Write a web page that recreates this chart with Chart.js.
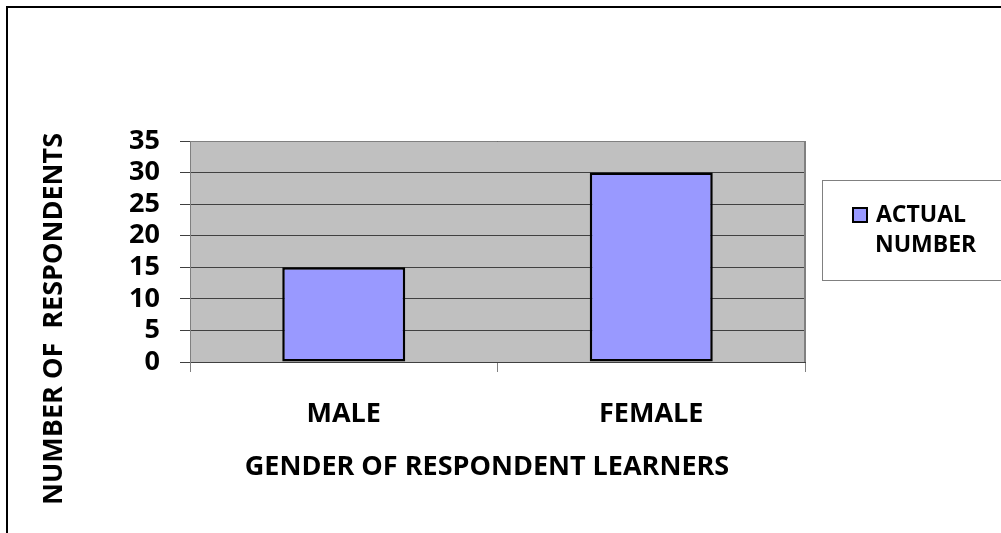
<!DOCTYPE html>
<html>
<head>
<meta charset="utf-8">
<script src="https://cdn.jsdelivr.net/npm/chart.js@4.4.1/dist/chart.umd.min.js"></script>
<style>
  html, body { margin: 0; padding: 0; background: #ffffff; }
  canvas { display: block; }
</style>
</head>
<body>
<canvas id="c" width="1001" height="533"></canvas>
<script>
const categories = ['MALE', 'FEMALE'];
const seriesLabel = 'ACTUAL NUMBER';
const seriesValues = [15, 30];
const yTickValues = [0, 5, 10, 15, 20, 25, 30, 35];
const xAxisTitle = 'GENDER OF RESPONDENT LEARNERS';
const yAxisTitle = 'NUMBER OF  RESPONDENTS';

const FONT = '"Open Sans", "Liberation Sans", sans-serif';
const BAR_FILL = '#9999FF';

const decor = {
  id: 'decor',
  beforeDraw(chart) {
    const ctx = chart.ctx;
    const a = chart.chartArea;
    ctx.save();
    ctx.fillStyle = '#ffffff';
    ctx.fillRect(0, 0, chart.width, chart.height);
    // outer frame
    ctx.strokeStyle = '#000000';
    ctx.lineWidth = 2;
    ctx.strokeRect(7, 7, chart.width + 20, chart.height + 20);
    // plot background
    ctx.fillStyle = '#C0C0C0';
    ctx.fillRect(a.left, a.top, a.right - a.left, a.bottom - a.top);
    ctx.restore();
  },
  afterDraw(chart) {
    const ctx = chart.ctx;
    const a = chart.chartArea;
    ctx.save();
    // plot top & right border
    ctx.strokeStyle = '#808080';
    ctx.lineWidth = 1;
    ctx.beginPath();
    ctx.moveTo(a.left, a.top + 0.5);
    ctx.lineTo(a.right, a.top + 0.5);
    ctx.stroke();
    ctx.lineWidth = 2;
    ctx.beginPath();
    ctx.moveTo(a.right, a.top);
    ctx.lineTo(a.right, a.bottom);
    ctx.stroke();

    // axis titles
    ctx.fillStyle = '#000000';
    ctx.font = 'bold 27px ' + FONT;
    ctx.textAlign = 'center';
    ctx.textBaseline = 'alphabetic';
    ctx.fillText(xAxisTitle, 487, 475);

    ctx.save();
    ctx.translate(62, 319);
    ctx.rotate(-Math.PI / 2);
    ctx.fillText(yAxisTitle, 0, 0);
    ctx.restore();

    // legend
    const ds = chart.data.datasets[0];
    ctx.strokeStyle = '#808080';
    ctx.lineWidth = 1;
    ctx.strokeRect(822.5, 180.5, 200, 100);
    ctx.fillStyle = ds.backgroundColor;
    ctx.fillRect(852, 207, 16, 16);
    ctx.strokeStyle = '#000000';
    ctx.lineWidth = 2;
    ctx.strokeRect(853, 208, 14, 14);
    const parts = ds.label.split(' ');
    ctx.fillStyle = '#000000';
    ctx.font = 'bold 23px ' + FONT;
    ctx.textAlign = 'left';
    ctx.fillText(parts[0], 876, 222);
    ctx.fillText(parts.slice(1).join(' '), 875, 252);
    ctx.restore();
  }
};

new Chart(document.getElementById('c'), {
  type: 'bar',
  data: {
    labels: categories,
    datasets: [{
      label: seriesLabel,
      data: seriesValues,
      backgroundColor: BAR_FILL,
      borderColor: '#000000',
      borderWidth: 2.5,
      borderSkipped: false,
      barPercentage: 0.8,
      categoryPercentage: 0.5
    }]
  },
  options: {
    responsive: false,
    animation: false,
    events: [],
    layout: { padding: { left: 0, top: 141, right: 196, bottom: 0 } },
    plugins: {
      legend: { display: false },
      tooltip: { enabled: false },
      title: { display: false }
    },
    scales: {
      x: {
        afterFit(scale) { scale.height = 171; },
        grid: {
          offset: true,
          drawOnChartArea: false,
          drawTicks: true,
          tickLength: 10,
          color: '#808080'
        },
        border: { display: true, color: '#404040', width: 1 },
        ticks: {
          color: '#000000',
          padding: 26,
          autoSkip: false,
          maxRotation: 0,
          font: { family: FONT, size: 27, weight: 'bold' }
        }
      },
      y: {
        min: 0,
        max: 35,
        afterFit(scale) { scale.width = 190; },
        afterBuildTicks(scale) { scale.ticks = yTickValues.map(v => ({ value: v })); },
        grid: {
          color: '#404040',
          lineWidth: 1,
          drawTicks: true,
          tickLength: 10
        },
        border: { display: true, color: '#808080', width: 1 },
        ticks: {
          color: '#000000',
          padding: 20,
          autoSkip: false,
          font: { family: FONT, size: 27, weight: 'bold', lineHeight: 1 }
        }
      }
    }
  },
  plugins: [decor]
});
</script>
</body>
</html>
